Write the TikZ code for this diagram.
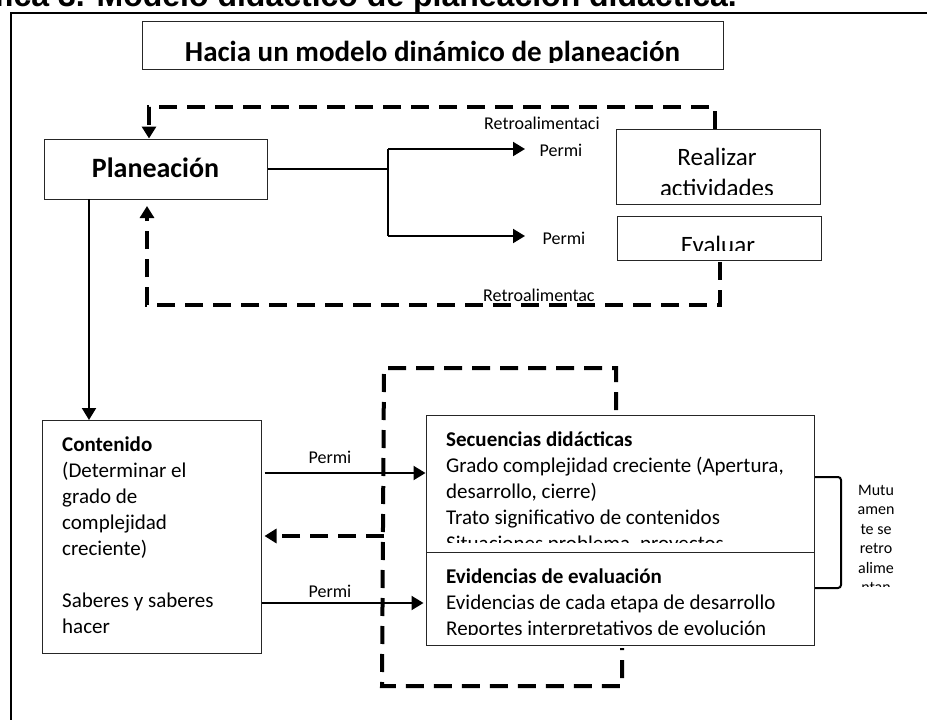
\documentclass[tikz,border=0pt]{standalone}
\usepackage{fontspec}
\setmainfont{Carlito}
\newfontfamily\arialfont{Liberation Sans}
\usetikzlibrary{arrows.meta}
\begin{document}
\begin{tikzpicture}[x=1pt,y=-1pt,
  box/.style={draw=black!85, line width=1pt, inner sep=0pt},
  solidline/.style={line width=2pt},
  dashline/.style={line width=4pt, dash pattern=on 18pt off 10pt},
  tip/.style={-{Triangle[length=12pt,width=14pt]}},
  txt/.style={inner sep=0pt, anchor=base west, font=\fontsize{21}{26}\selectfont},
  lbl/.style={inner sep=0pt, anchor=base, font=\fontsize{18}{22}\selectfont},
  mut/.style={inner sep=0pt, anchor=base, font=\fontsize{16}{19}\selectfont},
  big/.style={inner sep=0pt, anchor=base, font=\fontsize{25}{30}\selectfont},
]
\useasboundingbox (0,0) rectangle (927,720);
\clip (0,0) rectangle (927,720);
\fill[white] (0,0) rectangle (927,720);

% clipped caption at the very top
\node[inner sep=0pt, anchor=base east, font=\arialfont\bfseries\fontsize{32}{38}\selectfont] (caption) at (737,6) {Gráfica 3. Modelo didáctico de planeación didáctica.};

% outer frame
\draw[line width=2pt] (927,13) -- (11,13) -- (11,720);

% title box
\node[box, minimum width=581pt, minimum height=48pt] (titlebox) at (432.5,45) {};
\begin{scope}
\clip (143,22) rectangle (722,62);
\node[inner sep=0pt, anchor=base, font=\bfseries\fontsize{29}{34}\selectfont] (titletext) at (432.5,61) {Hacia un modelo dinámico de planeación};
\end{scope}

% Planeacion
\node[box, minimum width=223pt, minimum height=60pt] (plan) at (155.5,169) {};
\node[inner sep=0pt, anchor=base, font=\bfseries\fontsize{28}{34}\selectfont] (plantext) at (155.5,177) {Planeación};

% Realizar actividades
\node[box, minimum width=204pt, minimum height=75pt] (real) at (718,166.5) {};
\begin{scope}
\clip (617,130) rectangle (819,194);
\node[big] (realt1) at (717,165) {Realizar};
\node[big] (realt2) at (717,196) {actividades};
\end{scope}

% Evaluar
\node[box, minimum width=204pt, minimum height=44pt] (eval) at (719,238) {};
\begin{scope}
\clip (618,217) rectangle (820,250);
\node[big] (evalt) at (718,253) {Evaluar};
\end{scope}

% fork from Planeacion
\coordinate (fork) at (388,169);
\coordinate (forkT) at (388,149);
\coordinate (forkB) at (388,236);
\coordinate (tipT) at (525,149);
\coordinate (tipB) at (525,236);
\draw[solidline] (plan.east) -- (fork);
\draw[solidline] (forkT) -- (forkB);
\draw[solidline,tip] (forkT) -- (tipT);
\draw[solidline,tip] (forkB) -- (tipB);
\node[lbl] (permi1) at (561,156) {Permi};
\node[lbl] (permi2) at (564,244) {Permi};
\node[lbl, anchor=base west] (retro1) at (484,129) {Retroalimentaci};
\node[lbl, anchor=base west] (retro2) at (483,301) {Retroalimentac};

% feedback loops to Planeacion
\coordinate (fbT) at (149,107);
\coordinate (fbTs) at (715,129);
\draw[dashline,tip] (fbTs) |- (fbT) -- (fbT |- plan.north);
\coordinate (fbB) at (147,305);
\coordinate (fbBs) at (720,262);
\coordinate (fbBtip) at (147,206);
\draw[dashline,tip] (fbBs) |- (fbB) -- (fbBtip);

% Contenido
\node[box, minimum width=219pt, minimum height=233pt] (cont) at (151.5,536.5) {};
\node[txt] (c1) at (62,451) {\bfseries Contenido};
\node[txt] (c2) at (62,477) {(Determinar el};
\node[txt] (c3) at (62,503) {grado de};
\node[txt] (c4) at (62,529) {complejidad};
\node[txt] (c5) at (62,555) {creciente)};
\node[txt] (c6) at (62,607) {Saberes y saberes};
\node[txt] (c7) at (62,633) {hacer};

\draw[solidline,tip] (89,199) -- (89,420);

% Secuencias didacticas
\node[box, minimum width=388pt, minimum height=137pt] (sec) at (620,483.5) {};
\begin{scope}
\clip (427,416) rectangle (813,542);
\node[txt] (s1) at (446,446) {\bfseries Secuencias didácticas};
\node[txt] (s2) at (446,472) {Grado complejidad creciente (Apertura,};
\node[txt] (s3) at (446,498) {desarrollo, cierre)};
\node[txt] (s4) at (446,524) {Trato significativo de contenidos};
\node[txt] (s5) at (446,550) {Situaciones problema, proyectos};
\end{scope}

% Evidencias
\node[box, minimum width=388pt, minimum height=93pt] (evid) at (620,598.5) {};
\begin{scope}
\clip (427,553) rectangle (813,634);
\node[txt] (e1) at (446,583) {\bfseries Evidencias de evaluación};
\node[txt] (e2) at (446,609) {Evidencias de cada etapa de desarrollo};
\node[txt] (e3) at (446,635) {Reportes interpretativos de evolución};
\end{scope}

% arrows from Contenido
\coordinate (ya) at (0,473);
\coordinate (yb) at (0,603);
\draw[solidline,tip] ([xshift=3pt]cont.east |- ya) -- (sec.west |- ya);
\draw[solidline,tip] (cont.east |- yb) -- ([xshift=-2pt]evid.west |- yb);
\node[lbl] (permi3) at (330,463) {Permi};
\node[lbl] (permi4) at (330,597) {Permi};

% big dashed loop
\coordinate (L1) at (616,410);
\coordinate (L2) at (616,368);
\coordinate (L3) at (384,368);
\coordinate (L4) at (382,686);
\coordinate (L5) at (622,686);
\coordinate (L6) at (622,648);
\draw[dashline] (L1) -- (L2) -- (L3) -- (L4) -- (L5) -- (L6);
\coordinate (Lm) at (384,536);
\draw[dashline,tip] (Lm) -- ([xshift=3pt]cont.east |- Lm);

% bracket and side note
\draw[line width=2pt, rounded corners=3pt] (815,477) -- (841,477) -- (841,588) -- (815,588);
\begin{scope}
\clip (845,470) rectangle (910,586);
\node[mut] (m1) at (876,495) {Mutu};
\node[mut] (m2) at (876,514.5) {amen};
\node[mut] (m3) at (876,534) {te se};
\node[mut] (m4) at (876,553.5) {retro};
\node[mut] (m5) at (876,573) {alime};
\node[mut] (m6) at (876,592.5) {ntan};
\end{scope}
\end{tikzpicture}
\end{document}
